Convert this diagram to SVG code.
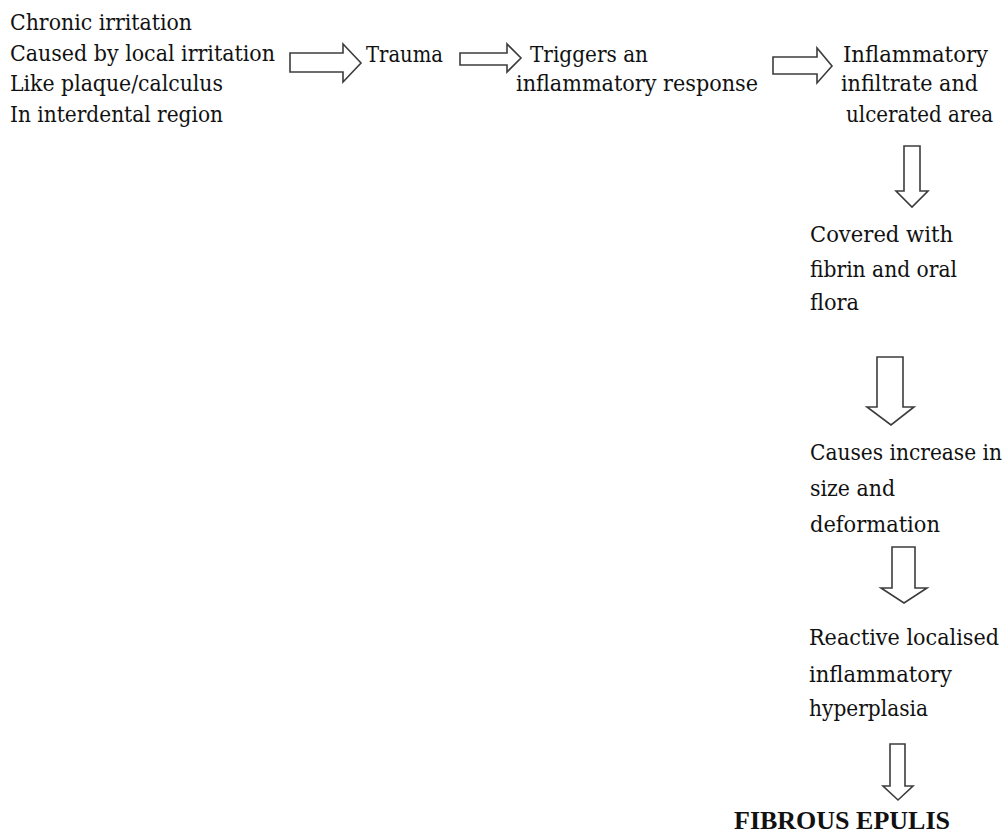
<svg xmlns="http://www.w3.org/2000/svg" width="1005" height="834" viewBox="0 0 1005 834">
<style>
text{font-family:'DejaVu Serif Condensed','DejaVu Serif','Liberation Serif',serif;font-stretch:condensed;font-size:22px;fill:#111;}
.b{font-family:'Liberation Serif','Times New Roman',serif;font-stretch:normal;font-size:26px;font-weight:bold;}
.a{fill:#fff;stroke:#3c3c3c;stroke-width:1.6;stroke-linejoin:miter;}
</style>
<rect width="1005" height="834" fill="#fff"/>
<g id="connectors">
<path class="a" d="M290,53 H343 V44 L361,63 L343,82 V72 H290 Z"/>
<path class="a" d="M460,53 H507 V44 L521,58 L507,72 V65 H460 Z"/>
<path class="a" d="M773,57 H817 V48 L832,66 L817,83 V74 H773 Z"/>
<path class="a" d="M904,146 V191 H896 L912,207 L928,191 H920 V146 Z"/>
<path class="a" d="M877,357 V407 H867 L891,425 L914,407 H903 V357 Z"/>
<path class="a" d="M892,547 V588 H881 L904,603 L927,588 H915 V547 Z"/>
<path class="a" d="M890,744 V786 H883 L898,800 L913,786 H905 V744 Z"/>
</g>
<g id="node-cause">
<text x="10" y="30" textLength="182" lengthAdjust="spacingAndGlyphs">Chronic irritation</text>
<text x="10" y="61" textLength="265" lengthAdjust="spacingAndGlyphs">Caused by local irritation</text>
<text x="10" y="91" textLength="213" lengthAdjust="spacingAndGlyphs">Like plaque/calculus</text>
<text x="10" y="122" textLength="213" lengthAdjust="spacingAndGlyphs">In interdental region</text>
</g>
<g id="node-trauma">
<text x="366" y="62" textLength="77" lengthAdjust="spacingAndGlyphs">Trauma</text>
</g>
<g id="node-triggers">
<text x="530" y="62" textLength="118" lengthAdjust="spacingAndGlyphs">Triggers  an</text>
<text x="516" y="91" textLength="242" lengthAdjust="spacingAndGlyphs">inflammatory response</text>
</g>
<g id="node-infiltrate">
<text x="843" y="62" textLength="145" lengthAdjust="spacingAndGlyphs">Inflammatory</text>
<text x="841" y="91" textLength="137" lengthAdjust="spacingAndGlyphs">infiltrate and</text>
<text x="846" y="122" textLength="147" lengthAdjust="spacingAndGlyphs">ulcerated area</text>
</g>
<g id="node-covered">
<text x="810" y="242" textLength="143" lengthAdjust="spacingAndGlyphs">Covered with</text>
<text x="810" y="277" textLength="147" lengthAdjust="spacingAndGlyphs">fibrin and oral</text>
<text x="810" y="310" textLength="49" lengthAdjust="spacingAndGlyphs">flora</text>
</g>
<g id="node-increase">
<text x="810" y="460" textLength="192" lengthAdjust="spacingAndGlyphs">Causes increase in</text>
<text x="810" y="496" textLength="85" lengthAdjust="spacingAndGlyphs">size and</text>
<text x="810" y="532" textLength="130" lengthAdjust="spacingAndGlyphs">deformation</text>
</g>
<g id="node-hyperplasia">
<text x="809" y="645" textLength="190" lengthAdjust="spacingAndGlyphs">Reactive localised</text>
<text x="809" y="682" textLength="143" lengthAdjust="spacingAndGlyphs">inflammatory</text>
<text x="809" y="716" textLength="119" lengthAdjust="spacingAndGlyphs">hyperplasia</text>
</g>
<g id="node-epulis">
<text class="b" x="734" y="829" textLength="216" lengthAdjust="spacingAndGlyphs">FIBROUS EPULIS</text>
</g>
</svg>
